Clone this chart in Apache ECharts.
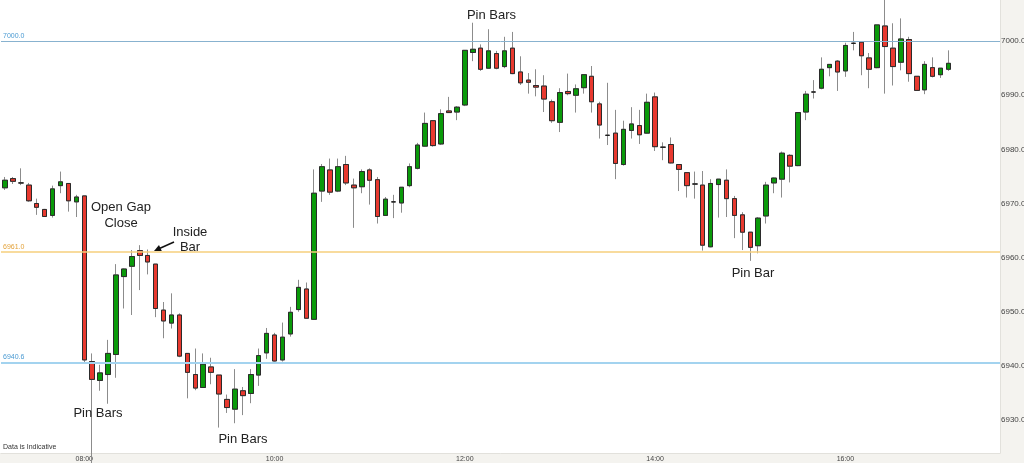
<!DOCTYPE html>
<html><head><meta charset="utf-8">
<script src="https://cdn.jsdelivr.net/npm/echarts@6/dist/echarts.min.js"></script>
<style>html,body{margin:0;padding:0;background:#fff}#c{width:1024px;height:463px}</style>
</head><body><div id="c"></div>
<script>
const categories = [
'07:10','07:15','07:20','07:25','07:30','07:35','07:40','07:45','07:50','07:55',
'08:00','08:05','08:10','08:15','08:20','08:25','08:30','08:35','08:40','08:45','08:50','08:55',
'09:00','09:05','09:10','09:15','09:20','09:25','09:30','09:35','09:40','09:45','09:50','09:55',
'10:00','10:05','10:10','10:15','10:20','10:25','10:30','10:35','10:40','10:45','10:50','10:55',
'11:00','11:05','11:10','11:15','11:20','11:25','11:30','11:35','11:40','11:45','11:50','11:55',
'12:00','12:05','12:10','12:15','12:20','12:25','12:30','12:35','12:40','12:45','12:50','12:55',
'13:00','13:05','13:10','13:15','13:20','13:25','13:30','13:35','13:40','13:45','13:50','13:55',
'14:00','14:05','14:10','14:15','14:20','14:25','14:30','14:35','14:40','14:45','14:50','14:55',
'15:00','15:05','15:10','15:15','15:20','15:25','15:30','15:35','15:40','15:45','15:50','15:55',
'16:00','16:05','16:10','16:15','16:20','16:25','16:30','16:35','16:40','16:45','16:50','16:55',
'17:00','17:05','17:10','17:15','17:20','17:25','17:30','17:35'];

const opens = [
6972.9,6974.6,6973.8,6973.4,6970.0,6968.9,6967.8,6973.3,6973.7,6970.3,
6971.4,6940.8,6937.3,6938.4,6942.1,6956.5,6958.4,6961.3,6960.4,6958.8,
6950.3,6947.9,6949.4,6942.3,6938.4,6936.0,6939.8,6938.3,6933.8,6932.0,
6935.4,6934.9,6938.3,6942.4,6945.7,6941.1,6945.9,6950.4,6954.2,6948.6,
6972.3,6976.2,6972.3,6977.2,6973.4,6973.1,6976.2,6974.4,6967.8,6970.3,
6970.1,6973.3,6976.5,6980.6,6985.3,6981.0,6987.1,6986.9,6988.2,6997.9,
6998.7,6995.0,6997.7,6995.3,6998.7,6994.3,6992.8,6991.8,6991.7,6988.8,
6985.0,6990.7,6990.0,6991.4,6993.5,6988.4,6982.6,6983.0,6977.2,6983.5,
6984.4,6983.0,6989.7,6980.4,6980.9,6977.2,6975.7,6973.6,6973.4,6962.0,
6973.5,6974.3,6970.9,6967.9,6964.7,6962.2,6967.7,6973.8,6974.5,6978.9,
6977.0,6986.9,6990.6,6991.3,6995.1,6996.3,6994.5,6999.6,6999.8,6996.9,
6995.1,7002.8,6998.7,6996.1,7000.3,6993.5,6991.0,6995.1,6993.8,6994.8];
const closes = [
6974.3,6974.1,6973.8,6970.5,6969.3,6967.6,6972.7,6974.0,6970.5,6971.2,
6941.1,6937.5,6938.7,6942.3,6956.8,6957.9,6960.2,6960.4,6959.2,6950.6,
6948.3,6949.4,6941.8,6938.8,6935.9,6940.3,6938.8,6934.8,6932.3,6935.7,
6934.5,6938.4,6941.9,6946.0,6940.9,6945.3,6949.9,6954.5,6948.8,6971.9,
6976.8,6972.1,6976.8,6973.8,6972.9,6975.9,6974.3,6967.6,6970.8,6970.3,
6973.0,6976.8,6980.8,6984.8,6980.7,6986.6,6986.8,6987.8,6998.3,6998.5,
6994.8,6998.2,6995.0,6998.2,6994.0,6992.3,6992.4,6991.5,6989.3,6985.3,
6990.5,6990.3,6991.2,6993.8,6988.8,6984.5,6982.6,6977.4,6983.7,6984.7,
6982.7,6988.7,6980.5,6980.4,6977.5,6976.3,6973.3,6973.6,6962.3,6973.7,
6974.5,6970.9,6967.8,6964.7,6961.9,6967.3,6973.4,6974.7,6979.3,6976.9,
6986.8,6990.2,6990.6,6994.8,6995.7,6994.3,6999.2,6999.6,6997.3,6994.8,
7003.0,6999.0,6995.3,7000.4,6994.0,6990.9,6995.7,6993.5,6995.0,6995.9];
const lows = [
6972.5,6973.6,6973.4,6970.3,6967.9,6967.5,6967.4,6971.9,6968.5,6967.5,
6940.4,6922.0,6935.4,6933.0,6937.8,6950.6,6949.4,6954.0,6956.9,6949.0,
6945.1,6946.9,6941.6,6934.0,6935.5,6936.0,6936.6,6928.6,6931.3,6929.4,
6930.9,6933.1,6936.3,6941.3,6940.8,6940.8,6945.4,6950.0,6948.7,6948.5,
6970.3,6971.6,6972.1,6973.4,6965.5,6971.9,6969.8,6966.3,6967.7,6967.3,
6968.3,6973.0,6976.3,6980.5,6980.5,6980.8,6986.8,6985.4,6988.0,6996.3,
6994.5,6994.9,6994.8,6995.0,6993.9,6991.9,6990.3,6989.8,6986.9,6984.9,
6983.2,6990.0,6986.8,6990.3,6986.8,6982.0,6980.8,6974.5,6977.0,6982.0,
6981.0,6982.9,6979.7,6978.0,6977.4,6972.3,6971.1,6970.9,6961.3,6961.9,
6967.4,6967.5,6963.6,6961.4,6959.4,6960.8,6966.3,6971.9,6971.1,6973.9,
6976.9,6985.4,6989.4,6991.1,6993.5,6990.8,6993.4,6998.3,6993.7,6991.3,
6995.0,6990.3,6991.8,6994.6,6992.5,6990.8,6990.2,6993.3,6993.2,6994.5];
const highs = [
6974.9,6974.9,6976.5,6973.8,6970.9,6969.0,6973.3,6975.9,6973.7,6971.6,
6971.4,6942.3,6940.2,6944.8,6958.8,6958.0,6961.4,6962.3,6961.5,6958.8,
6951.8,6953.4,6949.7,6942.3,6943.2,6942.3,6941.5,6938.3,6934.7,6939.4,
6936.1,6939.4,6943.2,6947.0,6946.1,6948.0,6950.9,6955.9,6955.4,6976.3,
6977.3,6978.3,6978.3,6978.8,6974.6,6976.3,6976.5,6974.9,6971.2,6971.6,
6973.0,6977.4,6981.2,6986.8,6985.4,6987.4,6989.7,6988.0,6998.3,7003.4,
6999.4,7002.2,6998.2,7000.8,7001.7,6997.2,6994.1,6994.8,6993.7,6989.2,
6991.3,6994.0,6992.0,6993.9,6995.4,6988.8,6992.3,6987.3,6985.3,6987.8,
6987.3,6990.3,6990.5,6981.3,6982.2,6977.2,6975.7,6975.9,6976.0,6974.5,
6974.5,6976.3,6971.4,6968.4,6964.7,6967.5,6974.0,6974.8,6979.6,6979.1,
6986.9,6990.8,6992.8,6997.0,6995.7,6996.5,6999.7,7001.7,6999.9,6997.8,
7003.0,7009.0,7003.3,7004.2,7000.8,6993.5,6996.3,6997.0,6995.0,6998.3];

const yTicks = [6930, 6940, 6950, 6960, 6970, 6980, 6990, 7000];
const xLabels = ['08:00', '10:00', '12:00', '14:00', '16:00'];
const levels = [7000.0, 6961.0, 6940.6];
const levelColors = ['#88b2cf', '#f6cf7c', '#a3d3ef'];
const levelLabelColors = ['#4a9ad2', '#e3a23a', '#4a9ad2'];
const levelWidths = [1, 1.5, 2];

const wickData = opens.map((o, i) => [o, closes[i], lows[i], highs[i]]);
const bodyData = opens.map((o, i) => [o, closes[i], Math.min(o, closes[i]), Math.max(o, closes[i])]);

const FONT = 'Liberation Sans';
const txt = (t, x, y) => ({type: 'text', z: 50, style: {text: t, x: x, y: y, font: '13px "' + FONT + '"', fill: '#222', align: 'center', verticalAlign: 'middle'}});

const chart = echarts.init(document.getElementById('c'));
chart.setOption({
  animation: false,
  backgroundColor: '#ffffff',
  textStyle: {fontFamily: FONT},
  grid: {left: 1, right: 24, top: 0, bottom: 10, containLabel: false, outerBoundsMode: 'none'},
  xAxis: {
    type: 'category', data: categories, boundaryGap: true,
    axisLine: {show: true, lineStyle: {color: '#e2e1dc'}},
    axisTick: {show: false},
    splitLine: {show: false},
    axisLabel: {interval: (i, v) => xLabels.includes(v), fontSize: 7, color: '#444', margin: 3}
  },
  yAxis: {
    type: 'value', position: 'right', min: 6923.9, max: 7007.6, scale: true,
    axisLine: {show: true, lineStyle: {color: '#e2e1dc'}},
    axisTick: {show: false},
    splitLine: {show: false},
    axisLabel: {customValues: yTicks, formatter: v => v.toFixed(1), fontSize: 8, color: '#444', margin: 1}
  },
  graphic: [
    {type: 'rect', z: -10, silent: true, shape: {x: 1000, y: 0, width: 24, height: 463}, style: {fill: '#f4f3ef'}},
    {type: 'rect', z: -10, silent: true, shape: {x: 0, y: 453, width: 1024, height: 10}, style: {fill: '#f4f3ef'}},
    txt('Pin Bars', 491.5, 15),
    txt('Open Gap', 121, 207.5),
    txt('Close', 121, 223),
    txt('Inside', 190, 232),
    txt('Bar', 190, 247),
    txt('Pin Bars', 98, 413),
    txt('Pin Bars', 243, 439),
    txt('Pin Bar', 753, 273),
    {type: 'line', z: 50, shape: {x1: 174, y1: 242, x2: 160, y2: 248.3}, style: {stroke: '#111', lineWidth: 1.5}},
    {type: 'polygon', z: 50, shape: {points: [[154, 251], [161.8, 251], [159, 245]]}, style: {fill: '#111'}},
    {type: 'text', z: 50, style: {text: 'Data is Indicative', x: 3, y: 447, font: '7px "' + FONT + '"', fill: '#333', align: 'left', verticalAlign: 'middle'}}
  ],
  series: [
    {
      type: 'candlestick', name: 'wick', data: wickData, barWidth: 5, z: 2,
      itemStyle: {color: '#0a9a0a', color0: '#e8392f', borderColor: '#8c8c8c', borderColor0: '#8c8c8c', borderColorDoji: '#8c8c8c', borderWidth: 1},
      markLine: {
        silent: true, symbol: 'none', animation: false,
        data: levels.map((v, i) => ({
          yAxis: v,
          lineStyle: {color: levelColors[i], width: levelWidths[i], type: 'solid'},
          label: {show: true, position: 'insideStartTop', formatter: v.toFixed(1), color: levelLabelColors[i], fontSize: 7, distance: [2, 2]}
        }))
      }
    },
    {
      type: 'candlestick', name: 'body', data: bodyData, barWidth: 5, z: 3,
      itemStyle: {color: '#0a9a0a', color0: '#e8392f', borderColor: '#2b2b2b', borderColor0: '#2b2b2b', borderColorDoji: '#1a1a1a', borderWidth: 1}
    }
  ]
});
</script>
</body></html>
